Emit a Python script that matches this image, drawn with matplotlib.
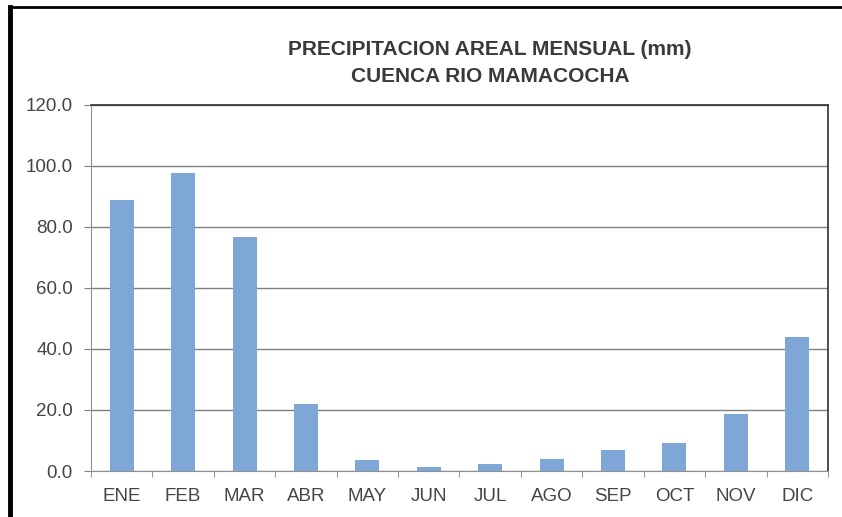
import numpy as np
import matplotlib.pyplot as plt
from matplotlib.lines import Line2D

meses = ['ENE', 'FEB', 'MAR', 'ABR', 'MAY', 'JUN', 'JUL', 'AGO', 'SEP', 'OCT', 'NOV', 'DIC']
precip = [88.7, 97.6, 76.6, 21.9, 3.6, 1.3, 2.3, 3.9, 6.9, 9.2, 18.5, 44.0]
yticks = [0, 20, 40, 60, 80, 100, 120]

plt.rcParams['font.family'] = ['Liberation Sans', 'DejaVu Sans']

fig = plt.figure(figsize=(8.42, 5.17), dpi=100)
ax = fig.add_axes([91 / 842, 1 - 471 / 517, (828 - 91) / 842, (471 - 104.5) / 517])

x = np.arange(len(meses))
ax.bar(x, precip, width=0.39, color='#7ea7d8', zorder=3)

ax.set_xlim(-0.5, len(meses) - 0.5)
ax.set_ylim(0, 120)
ax.set_yticks(yticks)
ax.set_yticklabels(['%.1f' % v for v in yticks])
ax.set_xticks(x)
ax.set_xticklabels(meses)
ax.set_xticks(np.arange(-0.5, len(meses)), minor=True)

ax.yaxis.grid(True, color='#808080', linewidth=1.0, zorder=0)
ax.tick_params(axis='both', which='major', labelsize=13.5, labelcolor='#454545', colors='#808080')
ax.tick_params(axis='y', length=5, pad=8)
ax.tick_params(axis='x', which='major', length=0, pad=12)
ax.tick_params(axis='x', which='minor', length=4, color='#808080')

for s in ['left', 'bottom']:
    ax.spines[s].set_color('#909090')
for s in ['top', 'right']:
    ax.spines[s].set_color('#303030')
    ax.spines[s].set_linewidth(1.2)

fig.text(490 / 842, 1 - 50 / 517, 'PRECIPITACION AREAL MENSUAL (mm)', ha='center', va='center',
         fontsize=15, fontweight='bold', color='#3a3a3a')
fig.text(490 / 842, 1 - 76 / 517, 'CUENCA RIO MAMACOCHA', ha='center', va='center',
         fontsize=15, fontweight='bold', color='#3a3a3a')

# marco del documento escaneado
fig.add_artist(Line2D([10 / 842, 10 / 842], [0, 1 - 7 / 517], color='black', linewidth=3.5,
                      transform=fig.transFigure))
fig.add_artist(Line2D([10 / 842, 1], [1 - 7 / 517, 1 - 7 / 517], color='black', linewidth=2,
                      transform=fig.transFigure))

fig.savefig('out.png', dpi=100)
